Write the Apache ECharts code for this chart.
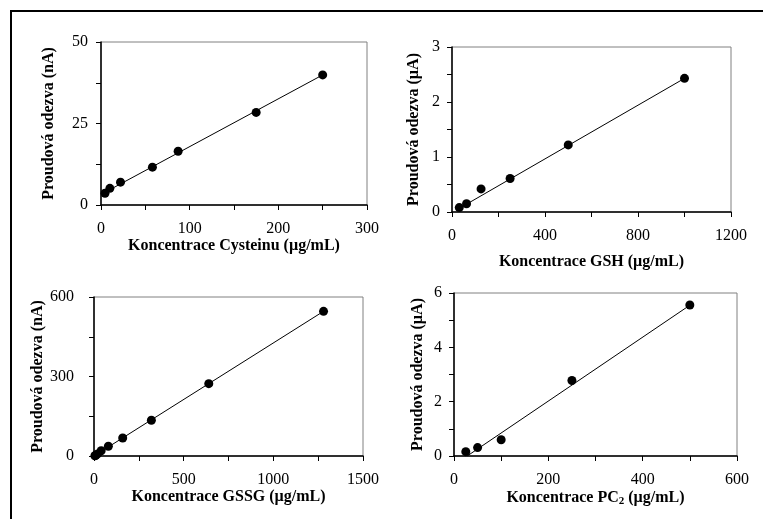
<!DOCTYPE html>
<html>
<head>
<meta charset="utf-8">
<script src="https://cdn.jsdelivr.net/npm/echarts@6/dist/echarts.min.js"></script>
<style>
  html, body { margin: 0; padding: 0; background: #fff; }
  #chart { width: 763px; height: 519px; }
  #frame { position: absolute; left: 10px; top: 10px; width: 780px; height: 540px; border-left: 2px solid #000; border-top: 2px solid #000; }
</style>
</head>
<body>
<div id="chart"></div>
<div id="frame"></div>
<script>
// Cystein
const cysX = [4.5, 10, 22, 58, 87, 175, 250]
const cysY = [3.6, 5.1, 7.0, 11.6, 16.5, 28.4, 39.9]
const cysFit = [[4.5, 3.9], [250, 39.9]]
// GSH
const gshX = [31.25, 62.5, 125, 250, 500, 1000]
const gshY = [0.08, 0.15, 0.42, 0.61, 1.22, 2.43]
const gshFit = [[33, 0.07], [1000, 2.43]]
// GSSG
const gssgX = [5, 10, 20, 40, 80, 160, 320, 640, 1280]
const gssgY = [1, 3, 8, 20, 37, 68, 135, 273, 546]
const gssgFit = [[0, 0], [1280, 546]]
// PC2
const pcX = [25, 50, 100, 250, 500]
const pcY = [0.16, 0.31, 0.60, 2.78, 5.56]
const pcFit = [[28, 0], [500, 5.55]]

const xNames = ['Koncentrace Cysteinu (µg/mL)', 'Koncentrace GSH (µg/mL)', 'Koncentrace GSSG (µg/mL)', 'Koncentrace PC{sub|2} (µg/mL)']
const yNames = ['Proudová odezva (nA)', 'Proudová odezva (µA)', 'Proudová odezva (nA)', 'Proudová odezva (µA)']

const font = 'Liberation Serif'
const grids = [
  { left: 101, top: 42, width: 266, height: 163 },
  { left: 452, top: 47, width: 279, height: 165 },
  { left: 94, top: 297, width: 269, height: 159 },
  { left: 454, top: 293, width: 283, height: 163 }
]
// [min, max, tick step, label step]
const xScale = [[0, 300, 50, 100], [0, 1200, 200, 400], [0, 1500, 250, 500], [0, 600, 100, 200]]
const yScale = [[0, 50, 12.5, 25], [0, 3, 0.5, 1], [0, 600, 150, 300], [0, 6, 1, 2]]
const xLabelMargin = [16, 16, 16, 16]
const xNameGap = [29, 42, 32, 32]
const yLabelMargin = [13, 12, 20, 12]
const yNameGap = [44, 30, 38, 28]

function axis(i, s, isX) {
  const [min, max, step, major] = s
  return {
    type: 'value', gridIndex: i, min, max, interval: step,
    name: isX ? xNames[i] : yNames[i],
    nameLocation: 'middle',
    nameGap: isX ? xNameGap[i] : yNameGap[i],
    nameTextStyle: {
      fontFamily: font, fontSize: 16, fontWeight: 'bold', color: '#000',
      rich: { sub: { fontFamily: font, fontSize: 11, fontWeight: 'bold', color: '#000', verticalAlign: 'bottom', padding: [8, 0, 0, 0] } }
    },
    axisLine: { show: true, onZero: false, lineStyle: { color: '#000', width: 1.5 } },
    axisTick: { show: true, length: 5, lineStyle: { color: '#000', width: 1 } },
    axisLabel: {
      fontFamily: font, fontSize: 16, color: '#000',
      margin: isX ? xLabelMargin[i] : yLabelMargin[i],
      formatter: v => (Math.abs(v / major - Math.round(v / major)) < 1e-6 ? String(v) : '')
    },
    splitLine: { show: false }
  }
}

const sets = [[cysX, cysY, cysFit], [gshX, gshY, gshFit], [gssgX, gssgY, gssgFit], [pcX, pcY, pcFit]]
const series = []
sets.forEach(([xs, ys, fit], i) => {
  series.push({
    type: 'line', xAxisIndex: i, yAxisIndex: i, data: fit,
    symbol: 'none', lineStyle: { color: '#000', width: 1 }, silent: true
  })
  series.push({
    type: 'scatter', xAxisIndex: i, yAxisIndex: i,
    data: xs.map((x, j) => [x, ys[j]]),
    symbolSize: 9, itemStyle: { color: '#000', opacity: 1 }
  })
})

const chart = echarts.init(document.getElementById('chart'))
chart.setOption({
  animation: false,
  backgroundColor: '#fff',
  grid: grids.map(g => ({ ...g, show: true, borderColor: '#808080', borderWidth: 1, backgroundColor: 'transparent' })),
  xAxis: xScale.map((s, i) => axis(i, s, true)),
  yAxis: yScale.map((s, i) => axis(i, s, false)),
  series
})
</script>
</body>
</html>
